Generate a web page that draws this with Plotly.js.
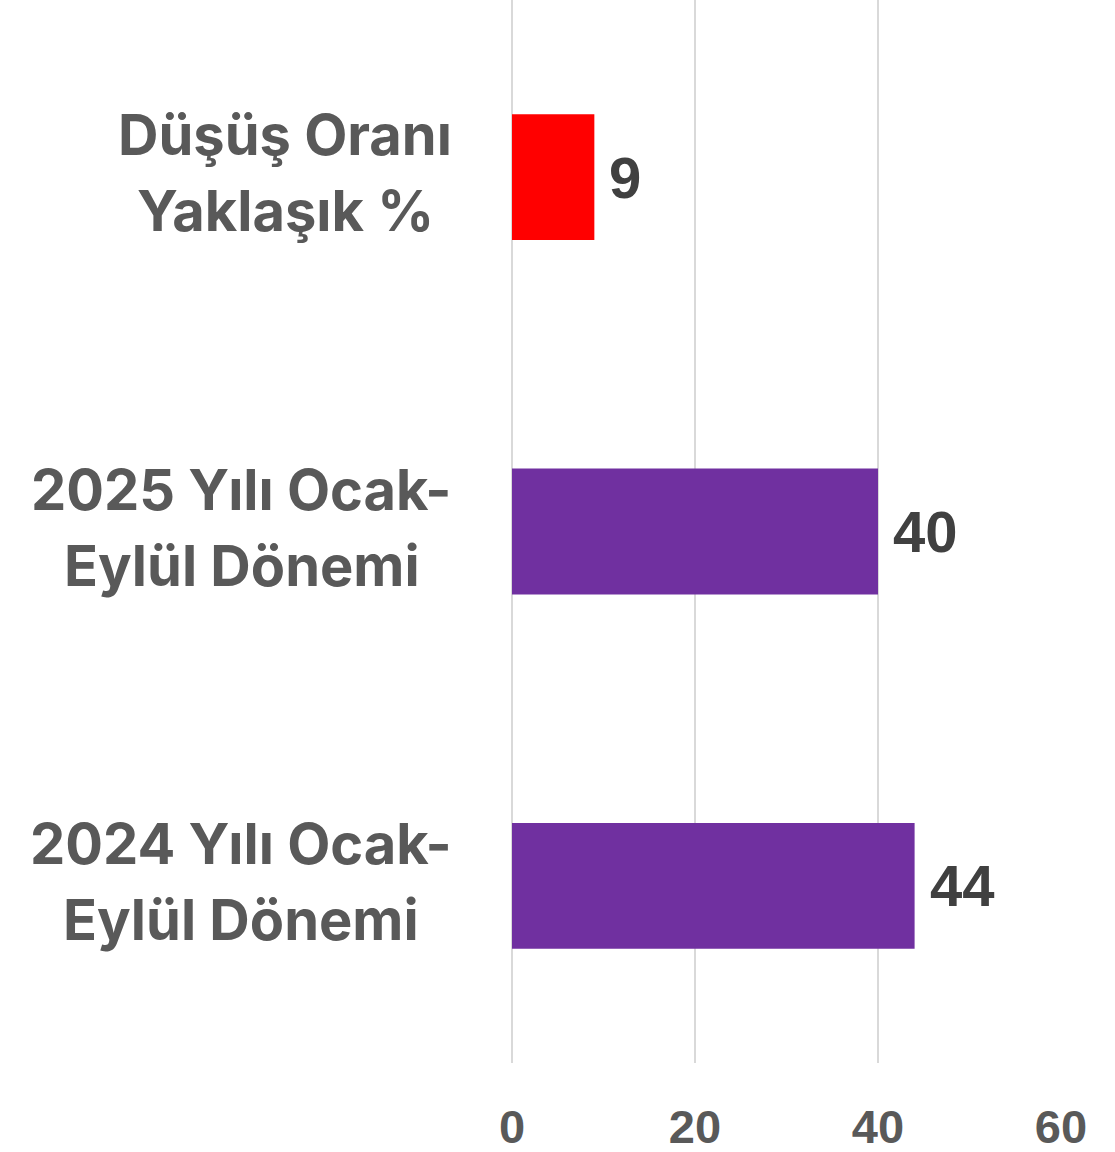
<!DOCTYPE html>
<html>
<head>
<meta charset="utf-8">
<script src="https://cdn.plot.ly/plotly-3.0.1.min.js"></script>
<style>
html,body{margin:0;padding:0;background:#fff;}
#chart{width:1115px;height:1152px;}
</style>
</head>
<body>
<div id="chart"></div>
<script>
// Data (bottom to top)
var categories = ["2024 Yılı Ocak-Eylül Dönemi", "2025 Yılı Ocak-Eylül Dönemi", "Düşüş Oranı Yaklaşık %"];
var labelLines = [["2024 Yılı Ocak-", "Eylül Dönemi"], ["2025 Yılı Ocak-", "Eylül Dönemi"], ["Düşüş Oranı", "Yaklaşık %"]];
var values = [44, 40, 9];
var barColors = ["#7030a0", "#7030a0", "#ff0000"];
var tickValues = [0, 20, 40, 60];

var W = 1115, H = 1152;
var margin = {l: 512, r: 54, t: 0, b: 89};
var plotW = W - margin.l - margin.r;

var labelFont = "Inter";
var labelSize = 56;
var labelRightPx = 452;

var ctx = document.createElement("canvas").getContext("2d");
ctx.font = "700 " + labelSize + "px " + labelFont;

var annotations = [];
categories.forEach(function (cat, i) {
  var lines = labelLines[i];
  var maxW = Math.max.apply(null, lines.map(function (s) { return ctx.measureText(s).width; }));
  var centerPx = labelRightPx - maxW / 2;
  var xPaper = (centerPx - margin.l) / plotW;
  var shifts = [42, -34];
  lines.forEach(function (line, j) {
    annotations.push({
      xref: "paper", yref: "y", x: xPaper, y: cat,
      text: line, showarrow: false, xanchor: "center", yanchor: "middle",
      yshift: shifts[j],
      font: {family: labelFont, size: labelSize, color: "#595959", weight: 700}
    });
  });
  annotations.push({
    xref: "x", yref: "y", x: values[i], y: cat,
    text: String(values[i]), showarrow: false, xanchor: "left", yanchor: "middle",
    xshift: 13,
    font: {family: "Liberation Sans, Arial, sans-serif", size: 58, color: "#404040", weight: 700}
  });
});

var trace = {
  type: "bar",
  orientation: "h",
  y: categories,
  x: values,
  marker: {color: barColors},
  width: 0.355,
  hoverinfo: "none"
};

var layout = {
  width: W, height: H,
  margin: margin,
  paper_bgcolor: "#ffffff",
  plot_bgcolor: "#ffffff",
  showlegend: false,
  xaxis: {
    range: [0, 60],
    tickvals: tickValues,
    ticktext: tickValues.map(String),
    showgrid: true,
    gridcolor: "#d9d9d9",
    gridwidth: 2,
    zeroline: true,
    zerolinecolor: "#d9d9d9",
    zerolinewidth: 2,
    showline: false,
    ticks: "",
    ticklabelstandoff: 32,
    tickfont: {family: "Liberation Sans, Arial, sans-serif", size: 47, color: "#595959", weight: 700},
    fixedrange: true
  },
  yaxis: {
    type: "category",
    categoryarray: categories,
    range: [-0.5, 2.5],
    showticklabels: false,
    showgrid: false,
    zeroline: false,
    showline: false,
    ticks: "",
    fixedrange: true
  },
  annotations: annotations
};

Plotly.newPlot("chart", [trace], layout, {displayModeBar: false, staticPlot: true});
</script>
</body>
</html>
